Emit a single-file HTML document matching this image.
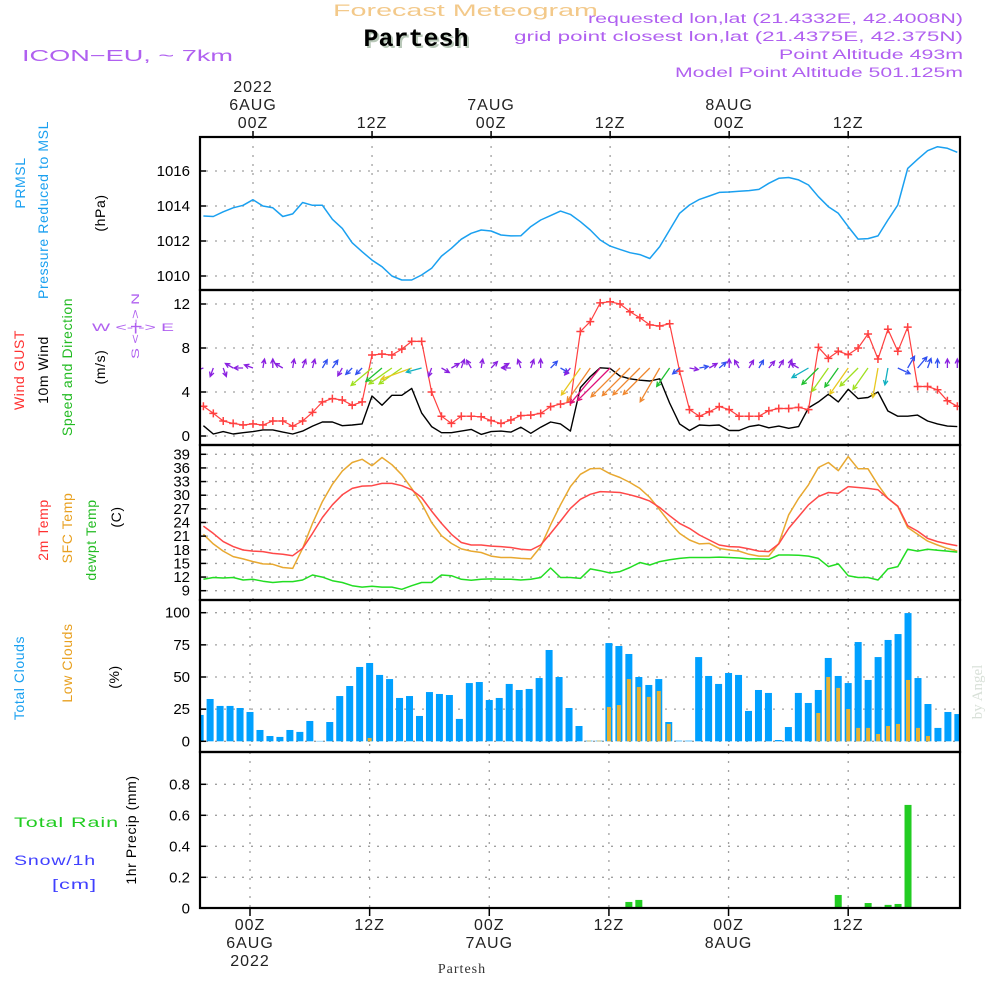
<!DOCTYPE html>
<html><head><meta charset="utf-8"><title>Forecast Meteogram - Partesh</title>
<style>
html,body{margin:0;padding:0;background:#fff;}
svg{display:block;font-family:"Liberation Sans",sans-serif;}
</style></head>
<body>
<svg id="chart" width="1000" height="1000" viewBox="0 0 1000 1000" xmlns="http://www.w3.org/2000/svg">
<rect x="0" y="0" width="1000" height="1000" fill="#fff"/>
<text x="333" y="16" font-size="17" fill="#f3c98a" textLength="265" lengthAdjust="spacingAndGlyphs">Forecast Meteogram</text>
<text x="418" y="48" text-anchor="middle" font-size="25" font-weight="bold" font-family="Liberation Mono, monospace" fill="#b8c8b8">Partesh</text>
<text x="416" y="46" text-anchor="middle" font-size="25" font-weight="bold" font-family="Liberation Mono, monospace" fill="#000">Partesh</text>
<text x="22" y="61" font-size="16" fill="#b060f0" textLength="211" lengthAdjust="spacingAndGlyphs">ICON−EU, ~ 7km</text>
<g font-size="13.5" fill="#b060f0">
<text x="588" y="23" textLength="375" lengthAdjust="spacingAndGlyphs">requested lon,lat (21.4332E, 42.4008N)</text>
<text x="514" y="41" textLength="449" lengthAdjust="spacingAndGlyphs">grid point closest lon,lat (21.4375E, 42.375N)</text>
<text x="779" y="59" textLength="184" lengthAdjust="spacingAndGlyphs">Point Altitude 493m</text>
<text x="675" y="77" textLength="288" lengthAdjust="spacingAndGlyphs">Model Point Altitude 501.125m</text>
</g>
<g id="grid"></g>
<g id="marks"></g>
<g id="frame"></g>
<g id="labels"></g>

<g font-size="14" letter-spacing="0.6">
<text transform="translate(25,183) rotate(-90)" text-anchor="middle" fill="#1aa0f0">PRMSL</text>
<text transform="translate(48,210) rotate(-90)" text-anchor="middle" fill="#1aa0f0">Pressure Reduced to MSL</text>
<text transform="translate(105,213) rotate(-90)" text-anchor="middle" fill="#000">(hPa)</text>
<text transform="translate(24,370) rotate(-90)" text-anchor="middle" fill="#ff3030">Wind GUST</text>
<text transform="translate(48,370) rotate(-90)" text-anchor="middle" fill="#000">10m Wind</text>
<text transform="translate(72,367) rotate(-90)" text-anchor="middle" fill="#22bb22">Speed and Direction</text>
<text transform="translate(105,367) rotate(-90)" text-anchor="middle" fill="#000">(m/s)</text>
<text transform="translate(48,530) rotate(-90)" text-anchor="middle" fill="#ff3030">2m Temp</text>
<text transform="translate(72,528) rotate(-90)" text-anchor="middle" fill="#e8a020">SFC Temp</text>
<text transform="translate(96,540) rotate(-90)" text-anchor="middle" fill="#22bb22">dewpt Temp</text>
<text transform="translate(121,517) rotate(-90)" text-anchor="middle" fill="#000">(C)</text>
<text transform="translate(24,678) rotate(-90)" text-anchor="middle" fill="#1aa0f0">Total Clouds</text>
<text transform="translate(72,663) rotate(-90)" text-anchor="middle" fill="#e8a020">Low Clouds</text>
<text transform="translate(119,677) rotate(-90)" text-anchor="middle" fill="#000">(%)</text>
<text x="14" y="827" fill="#22cc22" textLength="105" lengthAdjust="spacingAndGlyphs">Total  Rain</text>
<text x="14" y="865" fill="#4040ff" textLength="82" lengthAdjust="spacingAndGlyphs">Snow/1h</text>
<text x="52" y="889" fill="#4040ff" textLength="45" lengthAdjust="spacingAndGlyphs">[cm]</text>
<text transform="translate(136,830) rotate(-90)" text-anchor="middle" fill="#000">1hr Precip (mm)</text>
</g>
<g font-size="11" fill="#b060f0">
<text x="92" y="331" textLength="82" lengthAdjust="spacingAndGlyphs">W &lt;-|-&gt; E</text>
<text transform="translate(139,359) rotate(-90)" textLength="66" lengthAdjust="spacingAndGlyphs">S &lt;-|-&gt; N</text>
</g>
<text transform="translate(982,692) rotate(-90)" text-anchor="middle" font-size="15" fill="#d8e0d8" font-family="Liberation Serif, serif">by Angel</text>
<text x="462" y="973" text-anchor="middle" font-size="14" fill="#333" font-family="Liberation Serif, serif" letter-spacing="1">Partesh</text>
</svg>
<script>
// hours from 06AUG 00Z
const hours = [];
for (let h = -5; h <= 71; h++) hours.push(h);

const pressure = [1013.43,1013.4,1013.67,1013.9,1014.04,1014.36,1014.0,1013.9,1013.4,1013.55,1014.2,1014.04,1014.04,1013.24,1012.72,1011.9,1011.39,1010.91,1010.53,1010.0,1009.77,1009.77,1010.06,1010.44,1011.14,1011.58,1012.1,1012.44,1012.63,1012.57,1012.34,1012.29,1012.3,1012.82,1013.2,1013.45,1013.71,1013.52,1013.1,1012.63,1012.06,1011.71,1011.52,1011.33,1011.22,1011.0,1011.68,1012.63,1013.58,1014.06,1014.38,1014.57,1014.78,1014.8,1014.84,1014.88,1014.95,1015.3,1015.58,1015.63,1015.49,1015.2,1014.53,1013.96,1013.58,1012.82,1012.11,1012.14,1012.29,1013.2,1014.06,1016.15,1016.67,1017.16,1017.39,1017.3,1017.07];

const windSpeed = [0.94,0.18,0.4,0.18,0.3,0.4,0.55,0.55,0.35,0.18,0.45,0.9,1.27,1.27,0.94,1.0,1.1,3.64,2.8,3.7,3.7,4.33,2.1,0.85,0.3,0.3,0.45,0.6,0.15,0.4,0.45,0.35,0.8,0.25,0.8,1.27,1.1,0.45,4.4,5.4,6.2,6.15,5.45,5.2,5.07,5.0,5.2,3.0,1.1,0.5,1.0,0.95,1.0,0.5,0.5,0.85,1.0,0.75,0.9,0.7,0.85,2.55,3.1,3.8,3.1,4.25,3.4,3.5,4.0,2.27,1.8,1.8,1.9,1.36,1.1,0.9,0.85];

const windGust = [2.7,2.06,1.36,1.15,1.0,1.1,1.0,1.36,1.36,0.9,1.36,2.15,3.1,3.4,3.27,2.8,3.1,7.36,7.45,7.36,7.9,8.6,8.6,4.0,1.8,1.15,1.8,1.8,1.75,1.4,1.15,1.45,1.85,1.9,2.05,2.67,2.9,3.1,9.5,10.4,12.1,12.2,12.0,11.3,10.75,10.1,10.0,10.2,5.9,2.4,1.8,2.2,2.67,2.4,1.8,1.8,1.8,2.3,2.5,2.5,2.6,2.4,8.06,7.06,7.7,7.4,8.0,9.27,7.0,9.7,7.7,9.9,4.5,4.5,4.2,3.2,2.7];

// meteorological direction the wind comes FROM (degrees)
const windFrom = [70,20,340,120,90,110,190,180,120,190,200,195,210,215,30,45,45,50,50,55,55,70,75,20,300,240,200,150,190,225,240,90,160,200,180,225,300,40,35,35,40,45,45,45,45,45,30,35,50,280,260,240,230,180,150,210,210,220,210,200,120,60,45,35,35,35,45,35,10,10,295,210,220,200,180,180,180];

const temp2m = [23.2,21.6,19.8,18.7,17.95,17.7,17.6,17.2,17.0,16.7,18.3,21.6,25.1,27.9,30.1,31.5,32.0,32.1,32.6,32.6,32.1,31.2,29.5,26.5,23.8,21.4,19.6,19.05,19.05,18.8,18.7,18.5,18.1,17.95,19.05,21.6,24.3,27.1,29.1,30.2,30.8,30.7,30.6,30.1,29.5,28.7,27.3,25.5,23.8,22.7,21.25,20.15,19.05,18.7,18.6,18.2,17.7,17.6,19.3,22.7,25.3,27.9,29.7,30.6,30.4,31.9,31.7,31.5,31.2,29.3,27.6,23.3,22.1,20.5,19.8,19.3,18.9];

const tempSfc = [21.4,19.3,17.7,16.5,16.0,15.4,14.9,14.8,14.1,13.9,18.3,23.8,28.6,32.4,35.3,37.2,37.9,36.5,38.3,36.7,34.5,31.5,28.2,24.0,21.1,19.4,18.2,17.7,17.4,16.6,16.3,16.3,16.1,16.0,18.7,23.5,27.9,31.9,34.6,35.8,35.9,34.7,33.9,32.8,31.5,29.5,26.8,24.0,21.6,20.15,19.3,19.4,18.3,17.95,17.7,17.0,16.6,16.6,19.4,25.7,29.3,32.3,36.1,37.2,35.4,38.5,35.8,35.8,32.3,29.3,27.5,22.9,21.4,19.9,19.05,18.3,17.7];

const dewpoint = [11.5,11.9,11.8,11.9,11.35,11.5,11.1,10.8,11.0,11.0,11.35,12.45,12.0,11.2,10.8,10.1,9.8,10.0,9.8,9.8,9.3,10.1,10.8,10.8,12.45,12.3,11.5,11.3,11.5,11.6,11.5,11.5,11.35,11.5,11.9,14.0,11.9,11.9,11.7,13.8,13.4,12.9,13.2,14.1,15.2,14.65,15.4,15.8,16.1,16.3,16.3,16.3,16.4,16.3,16.2,16.0,16.0,15.9,16.85,16.85,16.8,16.6,16.1,14.3,14.9,12.3,11.9,11.9,11.35,13.8,14.3,18.1,17.7,18.1,17.9,17.7,17.5];

const totalClouds = [20.5,32.9,27.5,27.5,25.9,22.8,8.8,4.1,3.4,8.8,7.3,15.8,0.3,15.0,35.2,43.0,57.8,60.9,51.6,48.4,33.7,35.2,19.7,38.3,36.8,36.0,17.4,45.3,46.1,32.1,33.7,44.6,39.9,40.7,49.2,71.0,50.0,25.9,11.9,0.5,0.5,76.4,74.1,67.9,50.0,43.8,48.4,15.0,0.5,0.5,65.5,50.8,44.6,53.1,51.6,23.6,39.9,37.6,1.0,11.1,37.6,29.8,39.9,64.8,50.8,45.3,77.2,47.7,65.5,78.8,83.4,99.7,49.2,29.0,10.4,22.8,21.2];

const lowClouds = [0,0,0,0,0,0,0,0,0,0,0,0,0,0,0,0,0,2.6,0,0,0,0,0,0,0,0,0,0,0,0,0,0,0,0,0,0,0,0,0,0.5,0.5,26.7,28.2,48.4,42.2,34.5,39.1,13.5,0,0,0,0,0,0,0,0,0,0,0,0,0,0,22.0,50.0,41.5,25.1,10.4,10.4,5.7,11.9,13.5,47.7,10.4,4.1,0,0,0];

const precip = [0,0,0,0,0,0,0,0,0,0,0,0,0,0,0,0,0,0,0,0,0,0,0,0,0,0,0,0,0,0,0,0,0,0,0,0,0,0,0,0,0,0,0,0.041,0.054,0,0,0,0,0,0,0,0,0,0,0,0,0,0,0,0,0,0,0,0.086,0,0,0.034,0.009,0.022,0.028,0.667,0,0,0,0,0];

const pressureTicks = [1010,1012,1014,1016];
const windTicks = [0,4,8,12];
const tempTicks = [9,12,15,18,21,24,27,30,33,36,39];
const cloudTicks = [0,25,50,75,100];
const precipTicks = [0,0.2,0.4,0.6,0.8];
const timeTickHours = [0,12,24,36,48,60];
const topLabels = [["2022","6AUG","00Z"],["","","12Z"],["","7AUG","00Z"],["","","12Z"],["","8AUG","00Z"],["","","12Z"]];
const bottomLabels = [["00Z","6AUG","2022"],["12Z","",""],["00Z","7AUG",""],["12Z","",""],["00Z","8AUG",""],["12Z","",""]];

const X0 = 200, X1 = 960;
const xL = h => 253 + 9.92 * h;
const xB = h => 250 + 9.97 * h;
const yP = v => 276 - (v - 1010) * 17.5;
const yW = v => 436 - v * 11;
const yT = v => 590.7 - (v - 9) * 4.547;
const yC = v => 741.3 - v * 1.286;
const yR = v => 908.3 - v * 155;
const panels = [[137,290],[290,445],[445,600],[600,752],[752,908]];

const NS = "http://www.w3.org/2000/svg";
function mk(tag, attrs, parent) {
  const e = document.createElementNS(NS, tag);
  for (const k in attrs) e.setAttribute(k, attrs[k]);
  parent.appendChild(e);
  return e;
}
const grid = document.getElementById('grid');
const marks = document.getElementById('marks');
const frame = document.getElementById('frame');
const labels = document.getElementById('labels');

const defs = mk('defs', {}, document.getElementById('chart'));
const cp = mk('clipPath', {id: 'plotclip'}, defs);
mk('rect', {x: X0, y: 137, width: X1 - X0, height: 771}, cp);
marks.setAttribute('clip-path', 'url(#plotclip)');

const dash = {stroke: '#a0a0a0', 'stroke-width': 1.3, 'stroke-dasharray': '2,7'};
function hgrid(vals, f, name) {
  vals.forEach(v => {
    const l = mk('line', Object.assign({x1: X0 + 6, x2: X1, y1: f(v), y2: f(v)}, dash), grid);
    
    
    const t = mk('line', {x1: X0, x2: X0 + 6, y1: f(v), y2: f(v), stroke: '#000', 'stroke-width': 1.5}, frame);
    
    
    const lab = mk('text', {x: 190, y: f(v) + 5, 'text-anchor': 'end', 'font-size': 15, fill: '#000'}, labels);
    lab.textContent = String(v);
    
    
  });
}
hgrid(pressureTicks, yP, 'pressure');
hgrid(windTicks, yW, 'wind');
hgrid(tempTicks, yT, 'temp');
hgrid(cloudTicks, yC, 'cloud');
hgrid(precipTicks, yR, 'precip');

panels.forEach((p, i) => {
  timeTickHours.forEach(h => {
    const x = i >= 3 ? xB(h) : xL(h);
    const l = mk('line', Object.assign({x1: x, x2: x, y1: p[0], y2: p[1]}, dash), grid);
    
    
  });
});

timeTickHours.forEach((h, i) => {
  const x = xL(h);
  mk('line', {x1: x, x2: x, y1: 131, y2: 137, stroke: '#000', 'stroke-width': 1.5}, frame);
  mk('line', {x1: xB(h), x2: xB(h), y1: 908, y2: 916, stroke: '#000', 'stroke-width': 1.5}, frame);
  topLabels[i].forEach((s, j) => {
    if (!s) return;
    const t = mk('text', {x: x, y: 92 + j * 18, 'text-anchor': 'middle', 'font-size': 16, fill: '#222', 'letter-spacing': 1}, labels);
    t.textContent = s;
    
    
  });
  bottomLabels[i].forEach((s, j) => {
    if (!s) return;
    const t = mk('text', {x: xB(h), y: 930 + j * 18, 'text-anchor': 'middle', 'font-size': 16, fill: '#222', 'letter-spacing': 1}, labels);
    t.textContent = s;
    
    
  });
});

panels.forEach((p, i) => {
  const r = mk('rect', {x: X0, y: p[0], width: X1 - X0, height: p[1] - p[0], fill: 'none', stroke: '#000', 'stroke-width': 2.2}, frame);
  
  
});

function line(vals, fy, color, name, w) {
  const pts = vals.map((v, i) => xL(hours[i]).toFixed(1) + ',' + fy(v).toFixed(1)).join(' ');
  const pl = mk('polyline', {points: pts, fill: 'none', stroke: color, 'stroke-width': w || 1.4, 'stroke-linejoin': 'round'}, marks);
  
  
  return pl;
}

line(pressure, yP, '#1aa0f0', 'pressure-line', 1.5);

totalClouds.forEach((v, i) => {
  const x = xB(hours[i]);
  const r = mk('rect', {x: x - 3.5, y: yC(v), width: 7, height: yC(0) - yC(v), fill: '#00a0ff'}, marks);
  
  
});
lowClouds.forEach((v, i) => {
  if (v <= 0) return;
  const x = xB(hours[i]);
  const r = mk('rect', {x: x - 2, y: yC(v), width: 4, height: yC(0) - yC(v), fill: '#e8b030'}, marks);
  
  
});

precip.forEach((v, i) => {
  if (v <= 0) return;
  const x = xB(hours[i]);
  const r = mk('rect', {x: x - 3.5, y: yR(v), width: 7, height: yR(0) - yR(v), fill: '#22cc22'}, marks);
  
  
});
const dl = mk('line', {x1: X0, x2: X1, y1: yR(0), y2: yR(0), stroke: '#000', 'stroke-width': 1.5, 'stroke-dasharray': '6,3'}, marks);



line(tempSfc, yT, '#e8a830', 'sfc-temp-line', 1.5);
line(temp2m, yT, '#ff4848', '2m-temp-line', 1.5);
line(dewpoint, yT, '#22dd22', 'dewpoint-line', 1.5);

line(windSpeed, yW, '#000', 'wind-speed-line', 1.4);
line(windGust, yW, '#ff4040', 'wind-gust-line', 1.2);
windGust.forEach((v, i) => {
  const x = xL(hours[i]), y = yW(v);
  const g = mk('path', {d: `M${x-4},${y}H${x+4}M${x},${y-4}V${y+4}`, stroke: '#ff4040', 'stroke-width': 1.5}, marks);
  
  
});

function arrowColor(s) {
  if (s < 1) return '#8a20e0';
  if (s < 2) return '#3050f0';
  if (s < 2.6) return '#10b0c0';
  if (s < 3.3) return '#20c030';
  if (s < 3.9) return '#a0e020';
  if (s < 4.5) return '#e8c820';
  if (s < 6) return '#f08830';
  return '#e0107a';
}
windFrom.forEach((d, i) => {
  const s = windSpeed[i];
  const to = (d + 180) * Math.PI / 180;
  const L = Math.max(9, s * 7.5);
  const x0 = xL(hours[i]), y0 = 368;
  const x1 = x0 + L * Math.sin(to), y1 = y0 - L * Math.cos(to);
  const a1 = to + Math.PI * 0.85, a2 = to - Math.PI * 0.85, hl = 5;
  const c = arrowColor(s);
  const p = mk('path', {d: `M${x0.toFixed(1)},${y0}L${x1.toFixed(1)},${y1.toFixed(1)}M${(x1 + hl*Math.sin(a1)).toFixed(1)},${(y1 - hl*Math.cos(a1)).toFixed(1)}L${x1.toFixed(1)},${y1.toFixed(1)}L${(x1 + hl*Math.sin(a2)).toFixed(1)},${(y1 - hl*Math.cos(a2)).toFixed(1)}`, stroke: c, 'stroke-width': 1.3, fill: 'none'}, marks);
  
  
});
</script>
</body></html>
